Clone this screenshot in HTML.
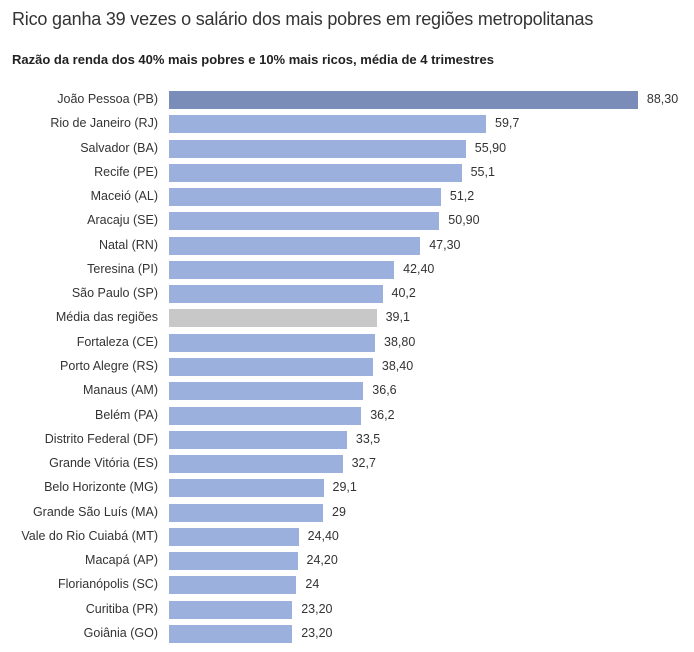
<!DOCTYPE html><html><head><meta charset="utf-8"><style>
body{margin:0;width:694px;height:652px;background:#fff;font-family:"Liberation Sans",sans-serif;color:#333;position:relative;overflow:hidden}
.t{position:absolute;left:12px;top:9px;font-size:18px;letter-spacing:-0.2px;color:#333;white-space:nowrap}
.s{position:absolute;left:12px;top:52px;font-size:13px;font-weight:bold;color:#222;white-space:nowrap}
.r{position:absolute;left:0;height:18px;width:694px}
.l{position:absolute;right:536px;top:1px;font-size:12.5px;white-space:nowrap;color:#333}
.b{position:absolute;left:169px;top:0;height:18px;background:#9bb0dc}
.v{position:absolute;top:1px;font-size:12.5px;color:#333}
</style></head><body>
<div class="t">Rico ganha 39 vezes o salário dos mais pobres em regiões metropolitanas</div>
<div class="s">Razão da renda dos 40% mais pobres e 10% mais ricos, média de 4 trimestres</div>
<div id="c"></div>
<script>
var d=[["João Pessoa (PB)",88.3,"88,30"],["Rio de Janeiro (RJ)",59.7,"59,7"],["Salvador (BA)",55.9,"55,90"],["Recife (PE)",55.1,"55,1"],["Maceió (AL)",51.2,"51,2"],["Aracaju (SE)",50.9,"50,90"],["Natal (RN)",47.3,"47,30"],["Teresina (PI)",42.4,"42,40"],["São Paulo (SP)",40.2,"40,2"],["Média das regiões",39.1,"39,1"],["Fortaleza (CE)",38.8,"38,80"],["Porto Alegre (RS)",38.4,"38,40"],["Manaus (AM)",36.6,"36,6"],["Belém (PA)",36.2,"36,2"],["Distrito Federal (DF)",33.5,"33,5"],["Grande Vitória (ES)",32.7,"32,7"],["Belo Horizonte (MG)",29.1,"29,1"],["Grande São Luís (MA)",29,"29"],["Vale do Rio Cuiabá (MT)",24.4,"24,40"],["Macapá (AP)",24.2,"24,20"],["Florianópolis (SC)",24,"24"],["Curitiba (PR)",23.2,"23,20"],["Goiânia (GO)",23.2,"23,20"]];
var h="";d.forEach(function(e,i){var y=91+i*24.27,w=e[1]*5.31;var col=i==0?"#7a8cb8":(i==9?"#c8c8c8":"#9bb0dc");
h+='<div class="r" style="top:'+y.toFixed(1)+'px"><div class="l">'+e[0]+'</div><div class="b" style="width:'+w.toFixed(1)+'px;background:'+col+'"></div><div class="v" style="left:'+(169+w+9).toFixed(1)+'px">'+e[2]+'</div></div>';});
document.getElementById("c").innerHTML=h;
</script>
</body></html>
